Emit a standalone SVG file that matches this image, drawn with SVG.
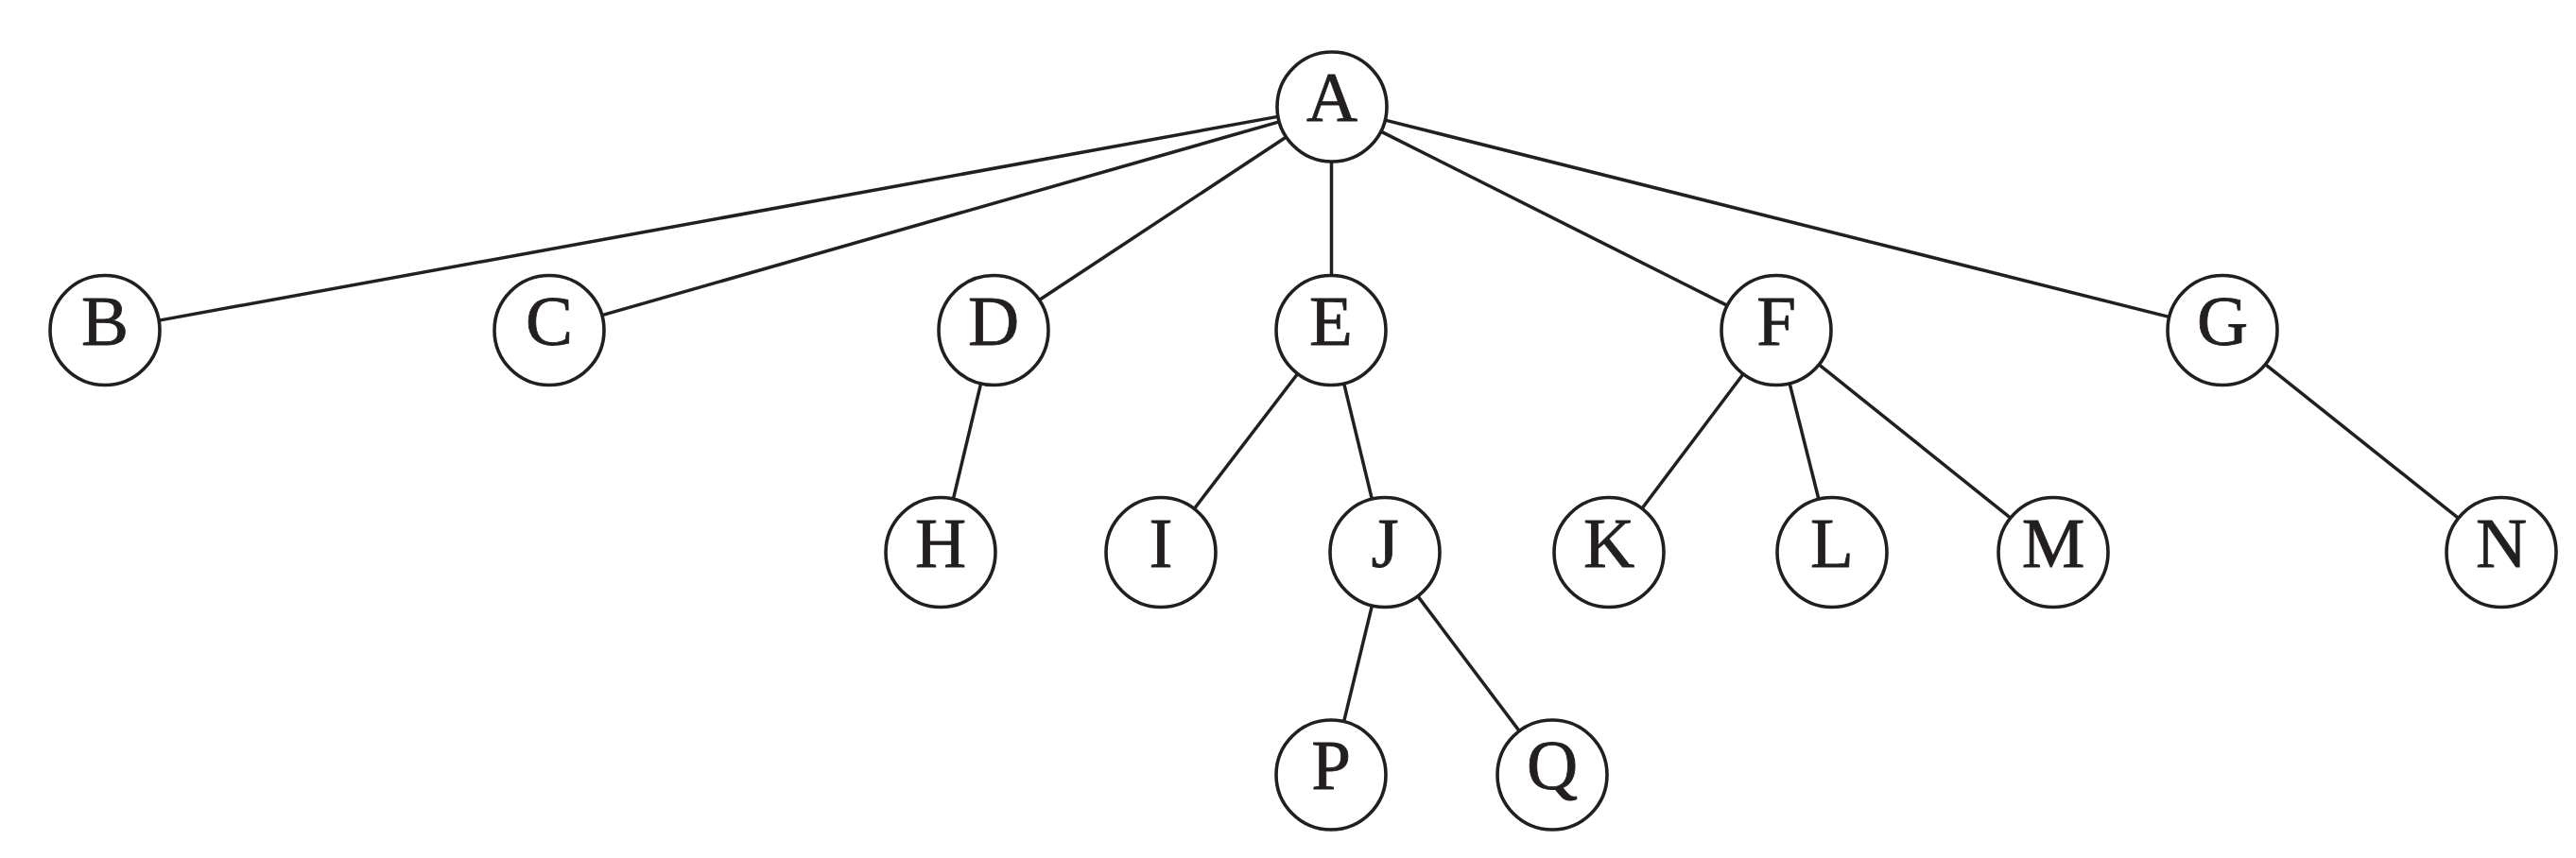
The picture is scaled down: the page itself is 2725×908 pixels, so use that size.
<svg xmlns="http://www.w3.org/2000/svg" width="2725" height="908" viewBox="0 0 2725 908">
<style>
.e{stroke:#231f20;stroke-width:3.5;fill:none}
.n circle{fill:#fff;stroke:#231f20;stroke-width:3.6}
.n text{font-family:"Liberation Serif","Times New Roman",serif;font-size:75px;fill:#231f20;stroke:#231f20;stroke-width:0.8;text-anchor:middle}
</style>
<rect width="2725" height="908" fill="#fff"/>
<g id="connectors">
<line class="e" x1="1351.9" y1="123.4" x2="168.1" y2="339.1"/>
<line class="e" x1="1353.2" y1="128.9" x2="636.8" y2="333.6"/>
<line class="e" x1="1360.6" y1="145.0" x2="1099.4" y2="317.5"/>
<line class="e" x1="1408.5" y1="171" x2="1408.5" y2="291.5"/>
<line class="e" x1="1460.8" y1="139.1" x2="1827.2" y2="323.4"/>
<line class="e" x1="1465.3" y1="127.1" x2="2294.7" y2="335.4"/>
<line class="e" x1="1037.6" y1="405.9" x2="1008.4" y2="528.1"/>
<line class="e" x1="1372.7" y1="395.5" x2="1263.3" y2="538.5"/>
<line class="e" x1="1421.7" y1="405.9" x2="1451.3" y2="528.1"/>
<line class="e" x1="1844.1" y1="395.8" x2="1736.9" y2="538.2"/>
<line class="e" x1="1893.1" y1="405.8" x2="1923.9" y2="528.2"/>
<line class="e" x1="1924.2" y1="385.8" x2="2126.8" y2="548.2"/>
<line class="e" x1="2396.4" y1="385.6" x2="2600.6" y2="548.4"/>
<line class="e" x1="1451.4" y1="640.9" x2="1421.6" y2="763.6"/>
<line class="e" x1="1499.8" y1="630.9" x2="1607.2" y2="773.6"/>
</g>
<g id="A" class="n"><circle cx="1409" cy="113" r="58"/><text x="1409" y="128">A</text></g>
<g id="B" class="n"><circle cx="111" cy="349.5" r="58"/><text x="111" y="364.5">B</text></g>
<g id="C" class="n"><circle cx="581" cy="349.5" r="58"/><text x="581" y="364.5">C</text></g>
<g id="D" class="n"><circle cx="1051" cy="349.5" r="58"/><text x="1051" y="364.5">D</text></g>
<g id="E" class="n"><circle cx="1408" cy="349.5" r="58"/><text x="1408" y="364.5">E</text></g>
<g id="F" class="n"><circle cx="1879" cy="349.5" r="58"/><text x="1879" y="364.5">F</text></g>
<g id="G" class="n"><circle cx="2351" cy="349.5" r="58"/><text x="2351" y="364.5">G</text></g>
<g id="H" class="n"><circle cx="995" cy="584.5" r="58"/><text x="995" y="599.5">H</text></g>
<g id="I" class="n"><circle cx="1228" cy="584.5" r="58"/><text x="1228" y="599.5">I</text></g>
<g id="J" class="n"><circle cx="1465" cy="584.5" r="58"/><text x="1465" y="599.5">J</text></g>
<g id="K" class="n"><circle cx="1702" cy="584.5" r="58"/><text x="1702" y="599.5">K</text></g>
<g id="L" class="n"><circle cx="1938" cy="584.5" r="58"/><text x="1938" y="599.5">L</text></g>
<g id="M" class="n"><circle cx="2172" cy="584.5" r="58"/><text x="2172" y="599.5">M</text></g>
<g id="N" class="n"><circle cx="2646" cy="584.5" r="58"/><text x="2646" y="599.5">N</text></g>
<g id="P" class="n"><circle cx="1408" cy="820" r="58"/><text x="1408" y="835">P</text></g>
<g id="Q" class="n"><circle cx="1642" cy="820" r="58"/><text x="1642" y="835">Q</text></g>
</svg>
